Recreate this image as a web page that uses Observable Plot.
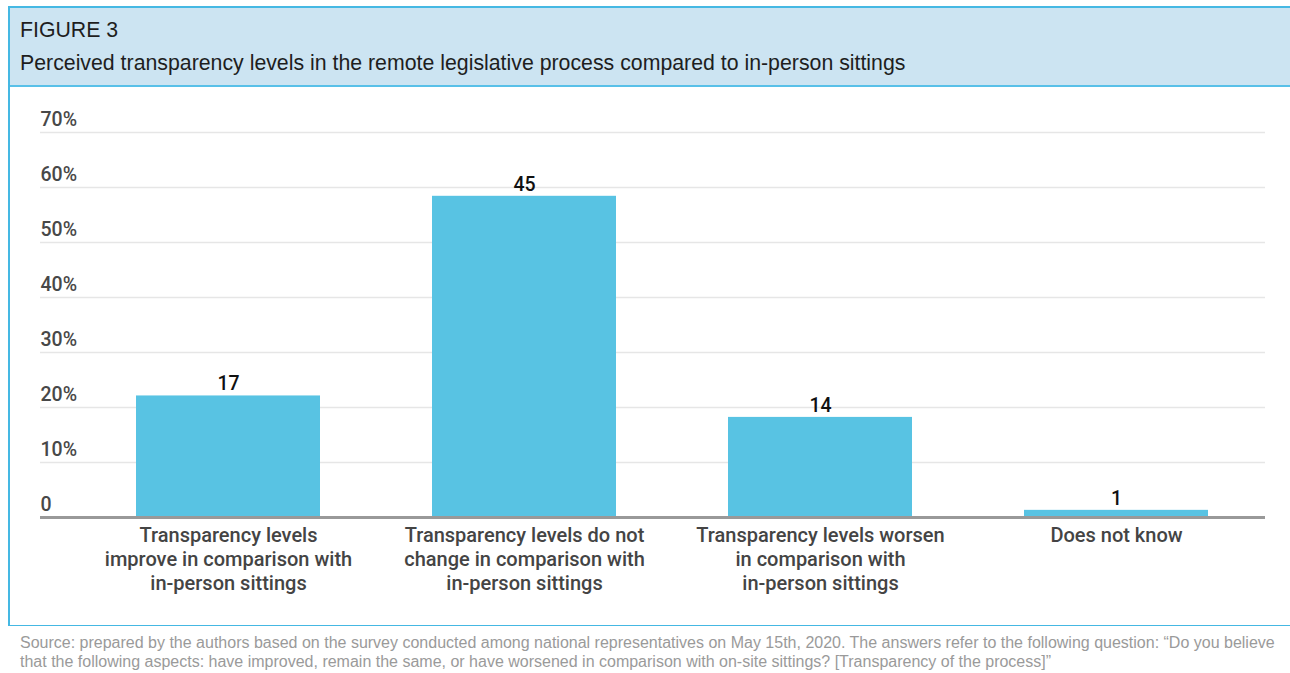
<!DOCTYPE html>
<html>
<head>
<meta charset="utf-8">
<script src="https://cdn.jsdelivr.net/npm/d3@7"></script>
<script src="https://cdn.jsdelivr.net/npm/@observablehq/plot@0.6"></script>
<style>
  html, body { margin: 0; padding: 0; background: #fff; width: 1290px; height: 673px; overflow: hidden; }
  .abs { position: absolute; }
  .line { background: #45b8e3; }
  #header { left: 8px; top: 8px; width: 1282px; height: 77px; background: #cce4f2; border-bottom: 2px solid #58c0e8; }
  .htext { font-family: "Liberation Sans", Arial, sans-serif; font-size: 21.3px; line-height: 24px; color: #1e1e1e; white-space: nowrap; }
  #caption { left: 20px; top: 633px; width: 1268px; font-family: "Liberation Sans", Arial, sans-serif; font-size: 16px; line-height: 19px; color: #9a9a9a; white-space: nowrap; }
  #chart { left: 0; top: 87px; }
</style>
</head>
<body>
<div id="header" class="abs"></div>
<div class="abs line" style="left:8px;top:6px;width:1282px;height:2px;"></div>
<div class="abs line" style="left:8px;top:6px;width:2px;height:620px;"></div>
<div class="abs line" style="left:8px;top:625px;width:1282px;height:1px;"></div>
<div class="abs htext" id="fig" style="left:20px;top:18px;">FIGURE 3</div>
<div class="abs htext" id="title" style="left:20px;top:51px;">Perceived transparency levels in the remote legislative process compared to in-person sittings</div>
<div id="chart" class="abs"></div>
<div id="caption" class="abs">Source: prepared by the authors based on the survey conducted among national representatives on May 15th, 2020. The answers refer to the following question: “Do you believe<br>that the following aspects: have improved, remain the same, or have worsened in comparison with on-site sittings? [Transparency of the process]”</div>
<script>
const categories = [
  "Transparency levels\nimprove in comparison with\nin-person sittings",
  "Transparency levels do not\nchange in comparison with\nin-person sittings",
  "Transparency levels worsen\nin comparison with\nin-person sittings",
  "Does not know"
];
const percentages = [22.1, 58.4, 18.2, 1.3];
const counts = [17, 45, 14, 1];
const yTicks = [0, 10, 20, 30, 40, 50, 60, 70];
const yTickLabels = ["0", "10%", "20%", "30%", "40%", "50%", "60%", "70%"];

const barColor = "#58c3e3";
const data = categories.map((c, i) => ({category: c, pct: percentages[i], count: counts[i]}));
const ticks = yTicks.map((t, i) => ({t, label: yTickLabels[i]}));

const chart = Plot.plot({
  width: 1290,
  height: 537,
  marginLeft: 40,
  marginRight: 25,
  marginTop: 45,
  marginBottom: 107,
  style: {background: "transparent", fontFamily: "Roboto, sans-serif", overflow: "visible"},
  x: {domain: categories, range: [80, 1264], paddingInner: 0.38, paddingOuter: 0.19, axis: null},
  y: {domain: [0, 70], axis: null},
  marks: [
    Plot.ruleY(ticks.filter(d => d.t > 0), {y: "t", stroke: "#e6e6e6", strokeWidth: 1.5}),
    Plot.text(ticks, {y: "t", text: "label", frameAnchor: "left", textAnchor: "start", dy: -13, fontSize: 19.5, fontWeight: 500, fill: "#484848"}),
    Plot.barY(data, {x: "category", y: "pct", fill: barColor}),
    Plot.ruleY([0], {stroke: "#999999", strokeWidth: 3}),
    Plot.text(data, {x: "category", y: "pct", text: d => String(d.count), dy: -12, fontSize: 19.5, fontWeight: 500, fill: "#111"}),
    Plot.text(data, {x: "category", y: () => 0, text: "category", lineAnchor: "top", dy: 7, lineHeight: 1.2, fontSize: 20, fontWeight: 500, fill: "#444"})
  ]
});
document.getElementById("chart").appendChild(chart);
</script>
</body>
</html>
